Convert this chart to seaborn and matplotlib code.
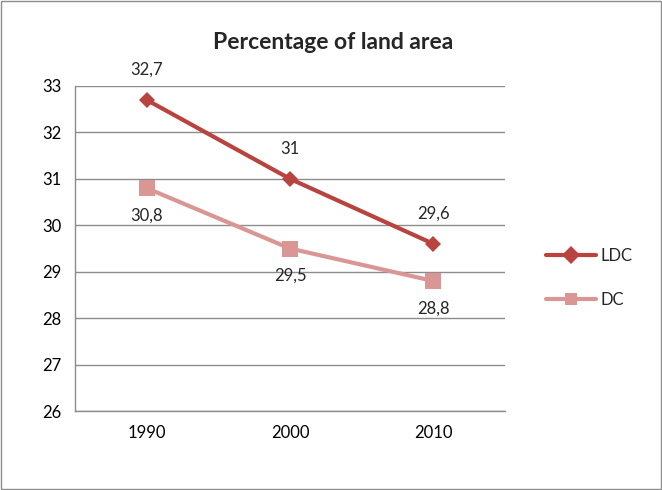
import matplotlib
matplotlib.use("Agg")
import matplotlib.pyplot as plt
import pandas as pd
import seaborn as sns
from matplotlib.patches import Rectangle

years = ["1990", "2000", "2010"]
ldc = [32.7, 31.0, 29.6]
dc = [30.8, 29.5, 28.8]
series_names = ["LDC", "DC"]

sns.set_theme(style="white")
plt.rcParams["font.family"] = ["Lato", "DejaVu Sans"]

df = pd.concat([
    pd.DataFrame({"Year": years, "Value": ldc, "Series": "LDC"}),
    pd.DataFrame({"Year": years, "Value": dc, "Series": "DC"}),
], ignore_index=True)
df["x"] = df["Year"].map({y: i for i, y in enumerate(years)})

colors = {"LDC": "#B8433F", "DC": "#D99694"}
fig = plt.figure(figsize=(6.62, 4.90), dpi=100)
ax = fig.add_axes([0.1133, 0.1612, 0.6497, 0.6633])

sns.lineplot(data=df, x="x", y="Value", hue="Series", style="Series",
             markers={"LDC": "D", "DC": "s"}, dashes=False, palette=colors,
             linewidth=3, markersize=9, markeredgewidth=0, ax=ax)

for line, name in zip(ax.get_lines()[:2], series_names):
    line.set_markersize(8 if name == "LDC" else 11)

for i, v in enumerate(ldc):
    ax.annotate(f"{v:g}".replace(".", ","), (i, v), xytext=(0, 16),
                textcoords="offset points", ha="center", va="bottom", fontsize=12)
for i, v in enumerate(dc):
    ax.annotate(f"{v:g}".replace(".", ","), (i, v), xytext=(0, -14),
                textcoords="offset points", ha="center", va="top", fontsize=12)

ax.set_xlim(-0.5, 2.5)
ax.set_ylim(26, 33)
ax.set_yticks(range(26, 34))
ax.set_xticks(range(len(years)))
ax.set_xticklabels(years)
ax.tick_params(axis="both", labelsize=12, colors="black", length=0, pad=10)
ax.yaxis.grid(True, color="#8C8C8C", linewidth=1)
ax.set_axisbelow(True)
for side in ["top", "right"]:
    ax.spines[side].set_visible(False)
for side in ["left", "bottom"]:
    ax.spines[side].set_color("#8C8C8C")
    ax.spines[side].set_linewidth(1)
ax.set_xlabel("")
ax.set_ylabel("")

handles, labels = ax.get_legend_handles_labels()
leg = ax.legend(handles, labels, loc="center left", bbox_to_anchor=(1.06, 0.41),
                frameon=False, fontsize=12, labelspacing=1.7, handlelength=3.0,
                handletextpad=0.3)

fig.text(0.503, 0.913, "Percentage of land area", ha="center", va="center",
         fontsize=16.5, fontweight="bold")
fig.patches.append(Rectangle((0.002, 0.002), 0.996, 0.996, transform=fig.transFigure,
                             fill=False, edgecolor="#8C8C8C", linewidth=1))

fig.savefig("out.png", dpi=100)
